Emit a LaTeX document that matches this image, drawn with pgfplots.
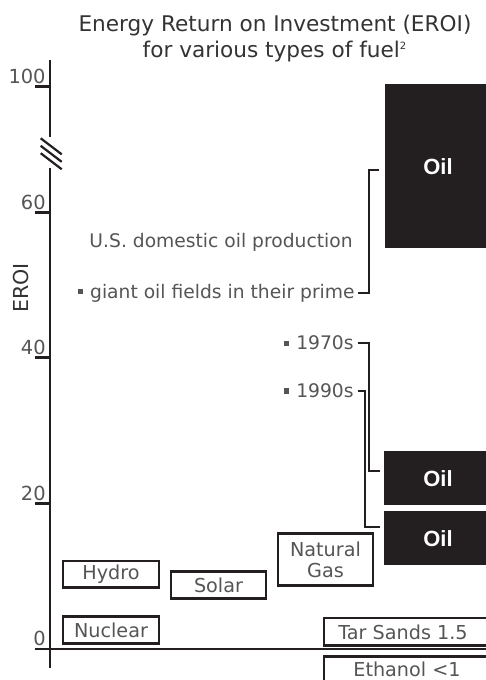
\documentclass[border=0pt]{standalone}
\usepackage{fontspec}
\setmainfont{DejaVu Sans}
\newfontfamily\oilfont{Liberation Sans}
\usepackage{pgfplots}
\pgfplotsset{compat=1.18}
\definecolor{ink}{HTML}{231F20}
\definecolor{txt}{HTML}{555555}
\definecolor{ttl}{HTML}{333333}
\newcommand{\bul}{\raisebox{0.22em}{\rule{2.6pt}{2.6pt}}\hspace{3.6pt}}
\begin{document}
\begin{tikzpicture}
\begin{axis}[
  x=0.5pt, y=3.64pt,
  xmin=-15, xmax=436, ymin=-2.6, ymax=80.9,
  axis x line=middle, axis y line=middle,
  axis line style={ink, line width=1.35pt, -},
  xtick=\empty,
  ytick={0,20,40,60,77.3}, yticklabels={0,20,40,60,100},
  hide obscured y ticks=false,
  tick align=outside, major tick length=7.5pt,
  every tick/.style={ink, line width=1.35pt},
  /pgf/number format/assume math mode=true,
  yticklabel style={anchor=south east, font=\fontsize{9.7}{11}\selectfont, text=txt, inner sep=0pt, xshift=5.5pt, yshift=1.2pt},
  ylabel={EROI},
  every axis y label/.style={at={(axis cs:-29,49.6)}, rotate=90, anchor=center, font=\fontsize{10.3}{12}\selectfont, text=ttl},
  clip=false,
  no markers,
]
% break in the y axis
\fill[white] (axis cs:-4,66.1) rectangle (axis cs:4,70.3);
\draw[ink, line width=1.1pt] (axis cs:-9.3,70.15) -- (axis cs:11.7,67.95);
\draw[ink, line width=1.1pt] (axis cs:-9.3,69.12) -- (axis cs:11.7,66.92);
\draw[ink, line width=1.1pt] (axis cs:-9.3,68.10) -- (axis cs:11.7,65.90);

% white boxes (EROI ranges)
\addplot[draw=ink, line width=1.4pt, fill=white] coordinates {(13,8.4) (109,8.4) (109,12.1) (13,12.1)} -- cycle;   % Hydro
\addplot[draw=ink, line width=1.4pt, fill=white] coordinates {(121,6.9) (216,6.9) (216,10.6) (121,10.6)} -- cycle;  % Solar
\addplot[draw=ink, line width=1.4pt, fill=white] coordinates {(228,8.7) (323,8.7) (323,15.9) (228,15.9)} -- cycle;  % Natural Gas
\addplot[draw=ink, line width=1.4pt, fill=white] coordinates {(13,0.7) (109,0.7) (109,4.5) (13,4.5)} -- cycle;      % Nuclear
\addplot[draw=ink, line width=1.4pt, fill=white] coordinates {(274,0.45) (445,0.45) (445,4.25) (274,4.25)} -- cycle; % Tar Sands
\addplot[draw=ink, line width=1.4pt, fill=white] coordinates {(274,-7) (445,-7) (445,-1.0) (274,-1.0)} -- cycle;    % Ethanol

% oil boxes
\addplot[draw=none, fill=ink] coordinates {(335,55.1) (445,55.1) (445,77.6) (335,77.6)} -- cycle;
\addplot[draw=none, fill=ink] coordinates {(334,19.8) (445,19.8) (445,27.2) (334,27.2)} -- cycle;
\addplot[draw=none, fill=ink] coordinates {(334,11.5) (445,11.5) (445,18.95) (334,18.95)} -- cycle;

% brackets
\draw[ink, line width=0.55pt] (axis cs:329,65.8) -- (axis cs:319,65.8) -- (axis cs:319,48.9) -- (axis cs:308,48.9);
\draw[ink, line width=0.55pt] (axis cs:308,42.03) -- (axis cs:319,42.03) -- (axis cs:319,24.45) -- (axis cs:330,24.45);
\draw[ink, line width=0.55pt] (axis cs:308,35.44) -- (axis cs:315,35.44) -- (axis cs:315,16.76) -- (axis cs:330,16.76);

% labels
\begin{scope}[every node/.style={font=\fontsize{9.6}{11}\selectfont, text=txt, inner sep=0pt}]
\node at (axis cs:61,10.25) {Hydro};
\node at (axis cs:168.5,8.75) {Solar};
\node[align=center, font=\fontsize{9.6}{10.5}\selectfont] at (axis cs:275.5,12.3) {Natural\\Gas};
\node at (axis cs:61,2.6) {Nuclear};
\node[anchor=west] at (axis cs:288,2.35) {Tar Sands 1.5};
\node[anchor=west] at (axis cs:303,-2.75) {Ethanol <1};
\end{scope}
\begin{scope}[every node/.style={font=\fontsize{9.35}{11}\selectfont, text=txt, inner sep=0pt}]
\node[anchor=east] at (axis cs:303,55.9) {U.S. domestic oil production};
\node[anchor=east] at (axis cs:305,48.9) {\bul giant oil fields in their prime};
\node[anchor=east] at (axis cs:304,42.03) {\bul 1970s};
\node[anchor=east] at (axis cs:304,35.44) {\bul 1990s};
\end{scope}
\begin{scope}[every node/.style={font=\oilfont\bfseries\fontsize{11}{12}\selectfont, text=white, inner sep=0pt}]
\node at (axis cs:388,66.3) {Oil};
\node at (axis cs:388,23.35) {Oil};
\node at (axis cs:388,15.1) {Oil};
\end{scope}

% title
\node[align=center, font=\fontsize{10.8}{13}\selectfont, text=ttl, inner sep=0pt] at (axis cs:225,83.9)
  {Energy Return on Investment (EROI)\\for various types of fuel\textsuperscript{\fontsize{5}{5}\selectfont 2}};

\coordinate (bbBL) at (axis cs:-50,-4.26);
\coordinate (bbTR) at (axis cs:436,89.15);
\end{axis}
\pgfresetboundingbox
\path[use as bounding box] (bbBL) rectangle (bbTR);
\end{tikzpicture}
\end{document}
